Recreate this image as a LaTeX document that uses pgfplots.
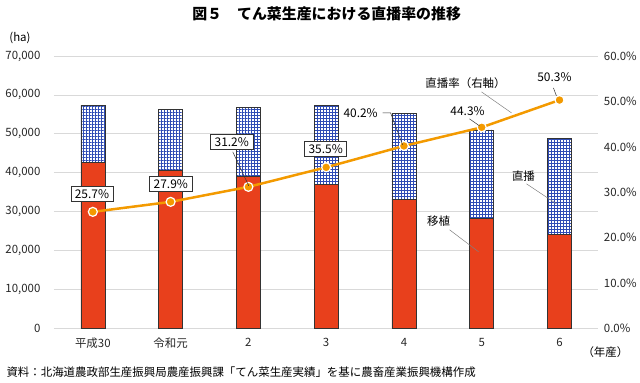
\documentclass[border=0pt]{standalone}
\usepackage{fontspec}
\setmainfont{Noto Sans CJK JP}
\usepackage{pgfplots}
\pgfplotsset{compat=1.18}
\usetikzlibrary{patterns.meta}
\definecolor{barred}{HTML}{E8401C}
\definecolor{lineor}{HTML}{F39A00}
\definecolor{hatchblue}{HTML}{2E4BB5}
\definecolor{gridgray}{HTML}{D9D9D9}
\newcommand{\fs}{\fontsize{11.5}{13}\selectfont}
\newcommand{\fl}{\fontsize{12}{14}\selectfont}
\begin{document}
\begin{tikzpicture}
\begin{scope}[x=1bp,y=-1bp,yshift=383bp]
 \path[use as bounding box] (0,0) rectangle (640,383);
\end{scope}
\begin{axis}[at={(54bp,54bp)}, anchor=south west, scale only axis,
  width=545bp, height=273bp, xmin=-0.5, xmax=6.5, ymin=0, ymax=70000,
  ybar stacked, bar width=24bp,
  xtick={0,...,6}, xticklabels={平成30,令和元,2,3,4,5,6},
  ytick={0,10000,...,70000},
  yticklabels={0,{10,000},{20,000},{30,000},{40,000},{50,000},{60,000},{70,000}},
  scaled y ticks=false,
  axis line style={draw=none}, major tick length=0pt,
  ymajorgrids, grid style={gridgray, line width=0.8bp},
  tick label style={font=\fs, text=black!85},
  xticklabel style={yshift=-6bp},
  yticklabel style={xshift=-10bp},
  clip=false]
\addplot[fill=barred, draw=black!80, line width=0.6bp] coordinates {(0,42600)(1,40600)(2,39000)(3,37000)(4,33100)(5,28400)(6,24300)};
\addplot[fill=white, draw=black!80, line width=0.6bp,
  postaction={pattern={Hatch[angle=0,distance=3bp,line width=0.9bp]}, pattern color=hatchblue}]
  coordinates {(0,14700)(1,15700)(2,17700)(3,20400)(4,22200)(5,22600)(6,24500)};
\end{axis}
\begin{axis}[at={(54bp,54bp)}, anchor=south west, scale only axis,
  width=545bp, height=273bp, xmin=-0.5, xmax=6.5, ymin=0, ymax=60,
  hide x axis, axis y line*=right, axis line style={draw=none}, major tick length=0pt,
  ytick={0,10,...,60},
  yticklabels={0.0\%,10.0\%,20.0\%,30.0\%,40.0\%,50.0\%,60.0\%},
  tick label style={font=\fs, text=black!85},
  yticklabel style={anchor=west, xshift=2bp},
  clip=false]
\addplot[lineor, line width=2.5bp, mark=*, mark size=4.5bp,
  mark options={fill=lineor, draw=white, line width=1.2bp}]
  coordinates {(0,25.7)(1,27.9)(2,31.2)(3,35.5)(4,40.2)(5,44.3)(6,50.3)};
\end{axis}
\begin{scope}[x=1bp,y=-1bp,yshift=383bp, font=\fs]
 \node[font=\fontsize{15}{17}\selectfont\bfseries] at (327,14) {図５　てん菜生産における直播率の推移};
 \node at (20,38) {(ha)};
 \node at (606,353) {（年産）};
 \node[anchor=west] at (3,373) {資料：北海道農政部生産振興局農産振興課「てん菜生産実績」を基に農畜産業振興機構作成};
 % boxed labels
 \tikzset{bx/.style={draw=black!80, line width=0.6bp, fill=white, inner xsep=4bp, inner ysep=3bp, font=\fl}}
 \draw[black!80, line width=0.5bp] (233,152) -- (249,186);
 \node[bx] at (92,194) {25.7\%};
 \node[bx] at (171,184) {27.9\%};
 \node[bx] at (232,142) {31.2\%};
 \node[bx] at (326,149) {35.5\%};
 % plain labels
 \node[font=\fl] at (361,113) {40.2\%};
 \draw[black!80, line width=0.5bp] (383,113) -- (391,113) -- (403,145);
 \node[font=\fl] at (468,111) {44.3\%};
 \draw[black!80, line width=0.5bp] (470,119) -- (480,126);
 \node[font=\fl] at (555,77) {50.3\%};
 \draw[black!80, line width=0.5bp] (554,88) -- (557,96);
 \node at (466,83) {直播率（右軸）};
 \draw[black!50, line width=0.5bp] (482,92) -- (512,113);
 \node at (439,221) {移植};
 \draw[black!50, line width=0.5bp] (450,230) -- (479,252);
 \node at (524,176) {直播};
 \draw[black!50, line width=0.5bp] (527,184) -- (557,204);
\end{scope}
\end{tikzpicture}
\end{document}
